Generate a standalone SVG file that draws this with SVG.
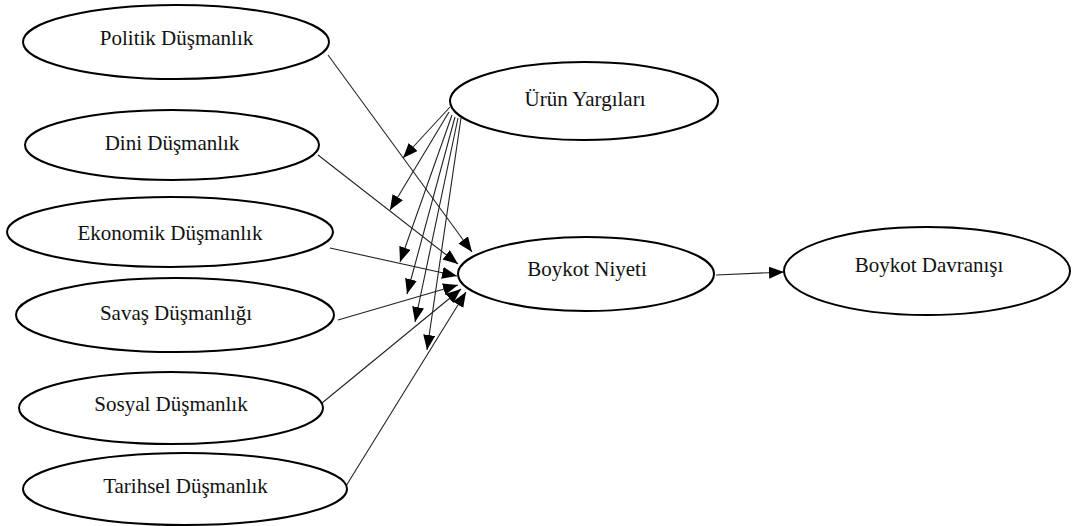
<svg xmlns="http://www.w3.org/2000/svg" width="1072" height="526" viewBox="0 0 1072 526">
<style>
.node ellipse{fill:#fff;stroke:#000;stroke-width:2}
#connectors line{stroke:#222;stroke-width:1.1;marker-end:url(#ah)}
</style>
<defs>
<marker id="ah" markerUnits="userSpaceOnUse" markerWidth="17" markerHeight="13" refX="15" refY="6" orient="auto">
<path d="M0,0 L15,6 L0,12 Z" fill="#000"/>
</marker>
</defs>
<rect width="1072" height="526" fill="#fff"/>
<g id="connectors">
<line x1="328" y1="55" x2="472" y2="252"/>
<line x1="318" y1="155" x2="458" y2="264"/>
<line x1="330" y1="248" x2="457" y2="276"/>
<line x1="338" y1="320" x2="458" y2="285"/>
<line x1="322" y1="403" x2="461" y2="289"/>
<line x1="346" y1="486" x2="466" y2="292"/>
<line x1="450" y1="107" x2="403" y2="158"/>
<line x1="449" y1="112" x2="390" y2="210"/>
<line x1="452" y1="115" x2="400" y2="262"/>
<line x1="455" y1="117" x2="407" y2="294"/>
<line x1="458" y1="118" x2="415" y2="322"/>
<line x1="461" y1="118" x2="427" y2="350"/>
<line x1="716" y1="275" x2="784" y2="272"/>
</g>
<g font-family="Liberation Serif, Times New Roman, serif" font-size="21" fill="#111" text-anchor="middle">
<g id="politik" class="node"><ellipse cx="176" cy="42" rx="153" ry="37"/><text x="176.5" y="45">Politik Düşmanlık</text></g>
<g id="dini" class="node"><ellipse cx="172" cy="145" rx="147" ry="35"/><text x="172" y="150">Dini Düşmanlık</text></g>
<g id="ekonomik" class="node"><ellipse cx="170" cy="232" rx="163" ry="35"/><text x="170" y="240">Ekonomik Düşmanlık</text></g>
<g id="savas" class="node"><ellipse cx="175" cy="315" rx="159" ry="37"/><text x="176" y="320">Savaş Düşmanlığı</text></g>
<g id="sosyal" class="node"><ellipse cx="171" cy="408" rx="152" ry="36"/><text x="171" y="411">Sosyal Düşmanlık</text></g>
<g id="tarihsel" class="node"><ellipse cx="185" cy="489" rx="162" ry="36"/><text x="185.5" y="493">Tarihsel Düşmanlık</text></g>
<g id="urun" class="node"><ellipse cx="584" cy="101" rx="134" ry="39"/><text x="585" y="106">Ürün Yargıları</text></g>
<g id="niyet" class="node"><ellipse cx="586" cy="274" rx="128" ry="37"/><text x="587" y="276">Boykot Niyeti</text></g>
<g id="davranis" class="node"><ellipse cx="927" cy="271" rx="143" ry="44"/><text x="929" y="272">Boykot Davranışı</text></g>
</g>
</svg>
